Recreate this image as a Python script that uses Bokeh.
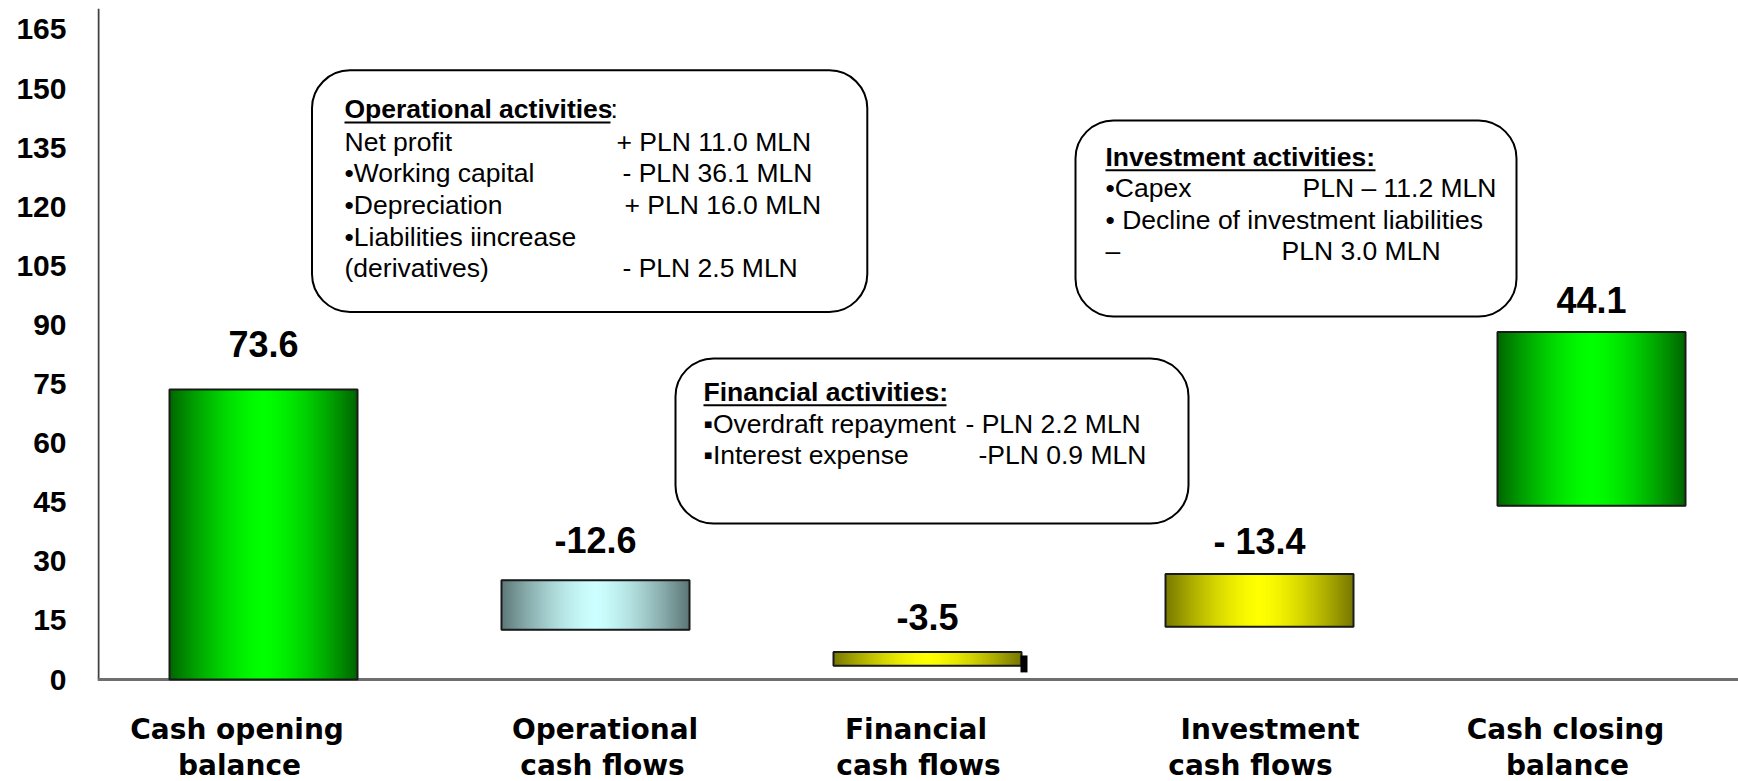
import numpy as np
from bokeh.plotting import figure
from bokeh.models import ColumnDataSource, FixedTicker, BoxAnnotation, Range1d
from bokeh.core.properties import value
from bokeh.embed import file_html
from bokeh.resources import INLINE

# ---------------- data ----------------
categories_line1 = ["Cash opening", "Operational", "Financial", "Investment", "Cash closing"]
categories_line2 = ["balance", "cash flows", "cash flows", "cash flows", "balance"]
bar_base = [0.0, 12.6, 3.5, 13.4, 44.1]
bar_height = [73.6, 12.6, 3.5, 13.4, 44.1]
value_labels = ["73.6", "-12.6", "-3.5", "- 13.4", "44.1"]
y_ticks = [0, 15, 30, 45, 60, 75, 90, 105, 120, 135, 150, 165]
fin_marker_range = [1.8, 6.1]

op_title = "Operational activities"
op_left = ["Net profit", "\u2022Working capital", "\u2022Depreciation", "\u2022Liabilities iincrease", "(derivatives)"]
op_right = ["+ PLN 11.0 MLN", "- PLN 36.1 MLN", "+ PLN 16.0 MLN", "", "- PLN 2.5 MLN"]
fin_title = "Financial activities:"
fin_left = ["\u25aaOverdraft repayment", "\u25aaInterest expense"]
fin_right = ["- PLN 2.2 MLN", "-PLN 0.9 MLN"]
inv_title = "Investment activities:"
inv_left = ["\u2022Capex", "\u2022 Decline of investment liabilities", "\u2013"]
inv_right = ["PLN \u2013 11.2 MLN", "", "PLN 3.0 MLN"]

# ---------------- styles / layout (page pixels) ----------------
W, H = 1738, 781
PX_PER_X = 332.0           # pixels per category step
X0_PAGE = 263.0            # page x of first category centre
PX_PER_Y = 3.94            # pixels per value unit
Y0_PAGE = 679.0            # page y of value 0
FRAME_L, FRAME_T = 97, 8
BASE_SHIFT = 0.38          # em correction for alphabetic baseline

def X(px):
    return (px - X0_PAGE) / PX_PER_X

def Y(py):
    return (Y0_PAGE - py) / PX_PER_Y

def YB(py, fs):
    # y for a text whose alphabetic baseline should sit at page y = py
    return Y(py - BASE_SHIFT * fs)

bar_w = 188.0 / PX_PER_X
bar_colors = [("#006400", "#00FF00"), ("#5C7676", "#CCFFFF"), ("#767600", "#FFFF00"),
              ("#767600", "#FFFF00"), ("#006400", "#00FF00")]
label_offsets_px = [32, 27, 21, 19, 18.5]
cat_x1 = [236.6, 604.6, 915.5, 1269.6, 1565.0]
cat_x2 = [239.0, 602.0, 918.0, 1250.0, 1567.0]
cat_base1, cat_base2 = 740.0, 776.0

p = figure(width=W, height=H, output_backend="svg", toolbar_location=None, tools="",
           x_range=Range1d(X(FRAME_L), X(W)),
           y_range=Range1d(Y(H), Y(FRAME_T)),
           min_border_left=FRAME_L, min_border_right=0,
           min_border_top=FRAME_T, min_border_bottom=0)
p.outline_line_color = None
p.xgrid.visible = False
p.ygrid.visible = False
p.background_fill_color = "white"
p.border_fill_color = "white"
p.xaxis.visible = False

# y axis (labels only; line drawn as a segment so it stops at 0)
p.yaxis.ticker = FixedTicker(ticks=y_ticks)
p.yaxis.major_tick_line_color = None
p.yaxis.minor_tick_line_color = None
p.yaxis.axis_line_color = None
p.yaxis.major_label_standoff = 25
p.yaxis.major_label_text_font = "Liberation Sans"
p.yaxis.major_label_text_font_style = "bold"
p.yaxis.major_label_text_font_size = "30px"
p.yaxis.major_label_text_color = "black"

x_start = X(FRAME_L + 1)
p.segment(x0=[x_start], x1=[x_start], y0=[0], y1=[Y(FRAME_T)], line_color="#404040", line_width=2)
p.segment(x0=[X(FRAME_L)], x1=[X(W)], y0=[0], y1=[0], line_color="#6E6E6E", line_width=3)

# ---------------- gradient bars ----------------
def hex2rgb(h):
    h = h.lstrip("#")
    return np.array([int(h[i:i + 2], 16) for i in (0, 2, 4)], dtype=float)

def mix(c1, c2, t):
    c = hex2rgb(c1) * (1 - t) + hex2rgb(c2) * t
    return "#%02x%02x%02x" % tuple(int(round(v)) for v in c)

N = 94
sl, sr, sb, st, sc = [], [], [], [], []
for i, (b, h) in enumerate(zip(bar_base, bar_height)):
    edge, centre = bar_colors[i]
    x_left = i - bar_w / 2
    for k in range(N):
        um = (k + 0.5) / N
        t = abs(2 * um - 1) ** 1.5
        sl.append(x_left + bar_w * k / N)
        sr.append(x_left + bar_w * (k + 1) / N)
        sb.append(b)
        st.append(b + h)
        sc.append(mix(centre, edge, t))
stripes = ColumnDataSource(dict(left=sl, right=sr, bottom=sb, top=st, color=sc))
p.quad(left="left", right="right", bottom="bottom", top="top", source=stripes,
       fill_color="color", line_color="color", line_width=1)

xs = list(range(len(bar_base)))
bars = ColumnDataSource(dict(left=[x - bar_w / 2 for x in xs], right=[x + bar_w / 2 for x in xs],
                             bottom=bar_base, top=[b + h for b, h in zip(bar_base, bar_height)]))
p.quad(left="left", right="right", bottom="bottom", top="top", source=bars,
       fill_color=None, line_color="#1A1A1A", line_width=2)

# small marker at the financial bar
fx = 2 + bar_w / 2 + 2.5 / PX_PER_X
p.segment(x0=[fx], x1=[fx], y0=[fin_marker_range[0]], y1=[fin_marker_range[1]],
          line_color="black", line_width=7, line_cap="butt")

# value labels
VFS = 36
lab = ColumnDataSource(dict(
    x=xs,
    y=[b + h + (o + BASE_SHIFT * VFS) / PX_PER_Y for b, h, o in zip(bar_base, bar_height, label_offsets_px)],
    text=value_labels))
p.text(x="x", y="y", text="text", source=lab, text_align="center", text_baseline="alphabetic",
       text_font=value("Liberation Sans"), text_font_style="bold", text_font_size=f"{VFS}px",
       text_color="black")

# ---------------- annotation boxes ----------------
boxes = [(311.5, 866.8, 69.8, 311.5), (675.0, 1188.0, 358.0, 523.0), (1075.0, 1516.0, 120.0, 316.0)]
for (l, r, t, b) in boxes:
    p.add_layout(BoxAnnotation(left=X(l), right=X(r), top=Y(t), bottom=Y(b), border_radius=38,
                               fill_color="white", fill_alpha=1.0, line_color="black",
                               line_width=2, line_alpha=1.0, level="underlay"))

AFS = 26.5
tx, ty, tt, tw = [], [], [], []
def add(px, py, text, weight="normal"):
    if text:
        tx.append(X(px)); ty.append(YB(py, AFS)); tt.append(text); tw.append(weight)

# operational box
op_base = [119.0, 151.2, 182.2, 214.4, 246.5, 277.5]
op_right_x = [616, 622, 624, 622, 622]
add(344, op_base[0], op_title, "bold")
add(344 + 266, op_base[0], ":")
for j in range(len(op_left)):
    add(344, op_base[j + 1], op_left[j])
    add(op_right_x[j], op_base[j + 1], op_right[j])
# financial box
fin_base = [401.7, 433.8, 464.8]
fin_right_x = [965, 978]
add(703, fin_base[0], fin_title, "bold")
for j in range(len(fin_left)):
    add(703, fin_base[j + 1], fin_left[j])
    add(fin_right_x[j], fin_base[j + 1], fin_right[j])
# investment box
inv_base = [166.7, 197.7, 229.9, 260.9]
inv_right_x = [1302, 0, 1281]
add(1105, inv_base[0], inv_title, "bold")
for j in range(len(inv_left)):
    add(1105, inv_base[j + 1], inv_left[j])
    add(inv_right_x[j], inv_base[j + 1], inv_right[j])

ann = ColumnDataSource(dict(x=tx, y=ty, text=tt, weight=tw))
p.text(x="x", y="y", text="text", source=ann, text_align="left", text_baseline="alphabetic",
       text_font=value("Liberation Sans"), text_font_style="weight", text_font_size=f"{AFS}px",
       text_color="black")

# underlines of titles
ul = [(344, 344 + 266, op_base[0] + 3), (703, 703 + 243, fin_base[0] + 3), (1105, 1105 + 270, inv_base[0] + 3)]
p.segment(x0=[X(a) for a, _, _ in ul], x1=[X(b) for _, b, _ in ul],
          y0=[Y(c) for _, _, c in ul], y1=[Y(c) for _, _, c in ul],
          line_color="black", line_width=2)

# category labels below the axis line
CFS = 28
cx_all = [X(v) for v in cat_x1] + [X(v) for v in cat_x2]
cy_all = [YB(cat_base1, CFS)] * len(cat_x1) + [YB(cat_base2, CFS)] * len(cat_x2)
cats = ColumnDataSource(dict(x=cx_all, y=cy_all, text=categories_line1 + categories_line2))
p.text(x="x", y="y", text="text", source=cats, text_align="center", text_baseline="alphabetic",
       text_font=value("DejaVu Sans"), text_font_style="bold", text_font_size=f"{CFS}px",
       text_color="black")

open("out.html", "w").write(file_html(p, INLINE))
